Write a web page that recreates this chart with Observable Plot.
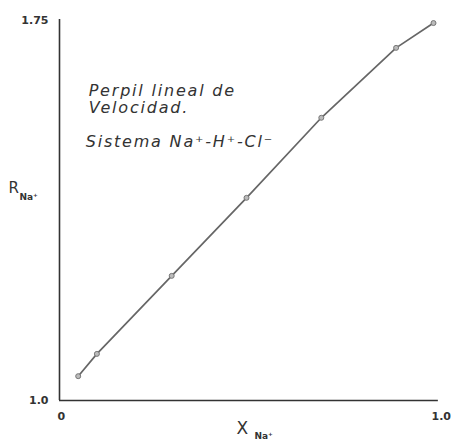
<!DOCTYPE html>
<html>
<head>
<meta charset="utf-8">
<script src="https://cdn.jsdelivr.net/npm/d3@7"></script>
<script src="https://cdn.jsdelivr.net/npm/@observablehq/plot@0.6"></script>
<style>
  html, body { margin: 0; padding: 0; background: #fff; }
  svg { display: block; }
</style>
</head>
<body>
<div id="chart"></div>
<script>
// Data
const xValues = [0.05, 0.10, 0.30, 0.50, 0.70, 0.90, 1.00];
const rValues = [1.048, 1.092, 1.246, 1.400, 1.558, 1.696, 1.745];

const yTickValues = [1.0, 1.75];
const yTickLabels = ["1.0", "1.75"];
const xTickValues = [0, 1.0];
const xTickLabels = ["0", "1.0"];

const noteLines = ["Perpil lineal de", "Velocidad.", "Sistema Na⁺-H⁺-Cl⁻"];
const noteX = [0.078, 0.078, 0.070];
const noteY = [1.612, 1.578, 1.511];

const data = xValues.map((x, i) => ({x, r: rValues[i]}));
const yTicks = yTickValues.map((v, i) => ({v, label: yTickLabels[i]}));
const xTicks = xTickValues.map((v, i) => ({v, label: xTickLabels[i]}));
const notes = noteLines.map((t, i) => ({t, x: noteX[i], y: noteY[i]}));

const ink = "#333";
const font = "DejaVu Sans, sans-serif";

const chart = Plot.plot({
  width: 453,
  height: 446,
  marginLeft: 59,
  marginRight: 20,
  marginTop: 20,
  marginBottom: 46,
  style: {fontFamily: font, background: "#fff", color: ink},
  x: {domain: [0, 1], axis: null},
  y: {domain: [1, 1.75], axis: null},
  marks: [
    // axes lines
    Plot.ruleX([0], {y1: 1.0, y2: 1.752, stroke: ink, strokeWidth: 1.6}),
    Plot.ruleY([1.0], {x1: 0, x2: 1.013, stroke: ink, strokeWidth: 1.6}),
    // tick labels
    Plot.text(yTicks, {x: 0, y: "v", text: "label", textAnchor: "end", dx: -11, fontSize: 11, fontWeight: "bold", fill: ink}),
    Plot.text(xTicks, {x: "v", y: 1.0, text: "label", textAnchor: "start", dx: -2, dy: 16, fontSize: 11, fontWeight: "bold", fill: ink}),
    // axis labels
    Plot.text(["R"], {frameAnchor: "left", textAnchor: "start", dx: -51, dy: -22, fontSize: 15, fill: ink}),
    Plot.text(["Na⁺"], {frameAnchor: "left", textAnchor: "start", dx: -40, dy: -13, fontSize: 9, fontWeight: "bold", fill: ink}),
    Plot.text(["X"], {frameAnchor: "bottom", textAnchor: "start", dx: -10, dy: 33, fontSize: 17, fill: ink}),
    Plot.text(["Na⁺"], {frameAnchor: "bottom", textAnchor: "start", dx: 8, dy: 38, fontSize: 9, fontWeight: "bold", fill: ink}),
    // annotation
    Plot.text(notes, {x: "x", y: "y", text: "t", textAnchor: "start", fontSize: 16, fontStyle: "italic", fill: ink}),
    // data
    Plot.line(data, {x: "x", y: "r", stroke: "#666", strokeWidth: 1.7}),
    Plot.dot(data, {x: "x", y: "r", r: 2.5, stroke: "#777", fill: "#bbb", strokeWidth: 1})
  ]
});

// widen the hand-lettered annotation
d3.select(chart).selectAll("g[font-style=italic] text").attr("letter-spacing", 1.8);

document.getElementById("chart").appendChild(chart);
</script>
</body>
</html>
